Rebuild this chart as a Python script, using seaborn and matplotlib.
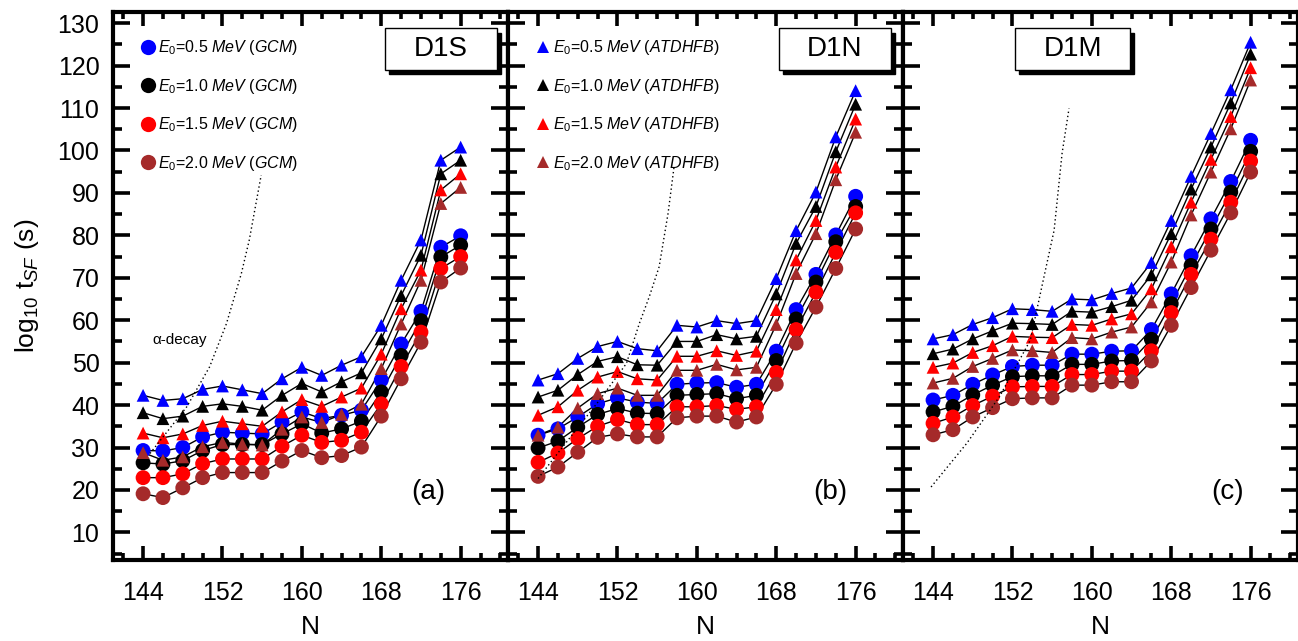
import pandas as pd
import matplotlib
matplotlib.use("Agg")
import matplotlib.pyplot as plt
from matplotlib.lines import Line2D
from matplotlib.patches import Rectangle
from matplotlib.ticker import MultipleLocator
import seaborn as sns

# ---------------------------------------------------
# DATA
# ---------------------------------------------------

N = [144, 146, 148, 150, 152, 154, 156, 158, 160, 162, 164, 166, 168, 170, 172, 174, 176]

energies = ["0.5", "1.0", "1.5", "2.0"]
colors = ["#0000ff", "#000000", "#ff0000", "#a52a2a"]
panels = ["D1S", "D1N", "D1M"]
panel_tags = ["(a)", "(b)", "(c)"]

# D1S
d1s_gcm_05 = [29.3, 29.2, 30.0, 32.5, 33.6, 33.4, 33.2, 36.0, 38.4, 36.8, 37.6, 38.8, 45.9, 54.4, 62.1, 77.2, 79.9]
d1s_gcm_10 = [26.4, 26.1, 26.9, 29.3, 30.7, 30.7, 30.7, 33.2, 35.6, 33.4, 34.4, 36.2, 43.1, 51.7, 59.9, 74.9, 77.7]
d1s_gcm_15 = [22.9, 22.9, 23.8, 26.2, 27.3, 27.3, 27.3, 30.3, 32.9, 31.2, 31.7, 33.6, 40.3, 49.1, 57.2, 72.2, 75.0]
d1s_gcm_20 = [19.1, 18.2, 20.5, 22.9, 24.1, 24.1, 24.1, 26.8, 29.3, 27.6, 28.1, 30.1, 37.4, 46.2, 54.8, 69.0, 72.3]
d1s_atd_05 = [42.3, 41.1, 41.5, 43.7, 44.5, 43.6, 42.7, 46.2, 48.9, 47.0, 49.4, 51.4, 58.8, 69.4, 78.9, 97.7, 100.8]
d1s_atd_10 = [38.2, 36.8, 37.4, 39.7, 40.3, 39.7, 38.8, 42.3, 45.1, 43.1, 45.5, 47.6, 55.6, 65.8, 75.3, 94.5, 97.7]
d1s_atd_15 = [33.4, 32.3, 33.2, 35.2, 36.2, 35.6, 35.0, 38.4, 41.3, 39.7, 41.9, 44.0, 52.0, 62.7, 71.8, 90.7, 94.5]
d1s_atd_20 = [28.8, 27.0, 27.8, 30.2, 31.2, 30.8, 30.6, 34.3, 37.2, 35.9, 37.8, 40.2, 48.6, 59.1, 69.4, 87.5, 91.3]

# D1N
d1n_gcm_05 = [32.9, 34.4, 37.2, 40.3, 41.7, 40.7, 40.4, 44.9, 45.2, 45.3, 44.2, 44.9, 52.7, 62.5, 70.8, 80.1, 89.2]
d1n_gcm_10 = [29.9, 31.5, 34.8, 37.8, 39.2, 38.1, 38.0, 42.3, 42.5, 42.7, 41.5, 42.3, 50.5, 60.3, 69.0, 78.5, 86.8]
d1n_gcm_15 = [26.5, 28.7, 32.1, 35.0, 36.6, 35.4, 35.4, 39.6, 39.6, 39.9, 39.0, 39.6, 47.7, 57.8, 66.6, 76.0, 85.3]
d1n_gcm_20 = [23.2, 25.4, 28.9, 32.4, 33.2, 32.5, 32.5, 37.0, 37.4, 37.4, 36.0, 37.2, 44.9, 54.6, 63.1, 72.2, 81.5]
d1n_atd_05 = [45.9, 47.4, 51.0, 53.8, 55.0, 53.3, 52.8, 58.8, 58.4, 59.9, 59.2, 59.9, 69.8, 81.1, 90.2, 103.2, 114.1]
d1n_atd_10 = [41.9, 43.5, 47.2, 50.3, 51.4, 49.5, 49.4, 55.0, 55.0, 56.6, 55.6, 56.2, 66.2, 78.1, 86.8, 99.7, 110.9]
d1n_atd_15 = [37.6, 39.6, 43.5, 46.6, 47.9, 46.2, 45.9, 51.5, 51.5, 52.8, 51.7, 52.7, 62.5, 74.2, 83.5, 96.1, 107.4]
d1n_atd_20 = [32.9, 34.8, 39.3, 42.7, 44.0, 42.3, 42.3, 48.2, 48.2, 49.6, 48.3, 48.9, 59.0, 71.0, 80.4, 93.1, 104.3]

# D1M
d1m_gcm_05 = [41.2, 42.3, 44.9, 47.1, 49.1, 49.4, 49.4, 52.0, 52.0, 52.7, 52.8, 57.8, 66.2, 75.2, 83.9, 92.7, 102.4]
d1m_gcm_10 = [38.4, 39.7, 42.4, 44.7, 46.7, 46.9, 46.9, 49.6, 49.6, 50.4, 50.5, 55.5, 63.9, 72.9, 81.5, 90.2, 99.8]
d1m_gcm_15 = [35.7, 37.2, 39.9, 42.1, 44.3, 44.4, 44.4, 47.2, 47.2, 48.0, 48.0, 52.8, 61.8, 70.8, 79.1, 87.8, 97.5]
d1m_gcm_20 = [33.0, 34.2, 37.2, 39.4, 41.5, 41.7, 41.7, 44.7, 44.7, 45.5, 45.5, 50.4, 58.8, 67.7, 76.5, 85.3, 94.9]
d1m_atd_05 = [55.6, 56.6, 59.0, 60.6, 62.7, 62.5, 62.1, 65.0, 64.8, 66.3, 67.6, 73.6, 83.5, 93.9, 104.0, 114.3, 125.5]
d1m_atd_10 = [52.1, 53.2, 55.6, 57.5, 59.3, 59.2, 59.0, 62.1, 61.9, 63.2, 64.7, 70.7, 80.4, 90.9, 100.8, 111.2, 122.7]
d1m_atd_15 = [48.9, 49.9, 52.4, 54.0, 56.2, 56.0, 55.9, 59.0, 58.8, 60.3, 61.5, 67.4, 77.3, 87.8, 97.9, 108.0, 119.5]
d1m_atd_20 = [45.2, 46.3, 49.1, 51.0, 53.0, 52.8, 52.4, 55.9, 55.6, 57.2, 58.4, 64.3, 73.7, 84.8, 94.9, 105.1, 116.6]

# alpha-decay half-lives (dotted)
d1s_alpha_N = [144.7, 148.4, 150.7, 152.4, 153.9, 154.7, 155.9]
d1s_alpha_t = [28.6, 39.6, 49.0, 59.2, 71.0, 78.9, 94.2]
d1n_alpha_N = [144.0, 146.5, 150.2, 152.9, 154.2, 155.2, 156.2, 157.1, 157.7]
d1n_alpha_t = [22.7, 30.2, 41.2, 49.8, 59.2, 65.5, 72.6, 85.2, 96.1]
d1m_alpha_N = [143.8, 147.4, 150.7, 153.8, 155.1, 156.2, 157.0, 157.7]
d1m_alpha_t = [20.7, 31.0, 42.0, 55.3, 69.4, 81.2, 99.3, 109.9]


def build_frame():
    series = {
        "D1S": {"GCM": [d1s_gcm_05, d1s_gcm_10, d1s_gcm_15, d1s_gcm_20],
                "ATDHFB": [d1s_atd_05, d1s_atd_10, d1s_atd_15, d1s_atd_20]},
        "D1N": {"GCM": [d1n_gcm_05, d1n_gcm_10, d1n_gcm_15, d1n_gcm_20],
                "ATDHFB": [d1n_atd_05, d1n_atd_10, d1n_atd_15, d1n_atd_20]},
        "D1M": {"GCM": [d1m_gcm_05, d1m_gcm_10, d1m_gcm_15, d1m_gcm_20],
                "ATDHFB": [d1m_atd_05, d1m_atd_10, d1m_atd_15, d1m_atd_20]},
    }
    rows = []
    for force, methods in series.items():
        for method, curves in methods.items():
            for e0, vals in zip(energies, curves):
                for n, v in zip(N, vals):
                    rows.append({"force": force, "method": method, "E0": e0,
                                 "curve": method + e0, "N": n, "logt": v})
    return pd.DataFrame(rows)


df = build_frame()
alpha = {"D1S": (d1s_alpha_N, d1s_alpha_t),
         "D1N": (d1n_alpha_N, d1n_alpha_t),
         "D1M": (d1m_alpha_N, d1m_alpha_t)}

# ---------------------------------------------------
# STYLE
# ---------------------------------------------------

sns.set_style("ticks")
plt.rcParams["font.family"] = ["Liberation Sans", "DejaVu Sans"]
plt.rcParams["mathtext.fontset"] = "custom"
plt.rcParams["mathtext.rm"] = "Liberation Sans"
plt.rcParams["mathtext.it"] = "Liberation Sans:italic"
plt.rcParams["mathtext.bf"] = "Liberation Sans:bold"
for key in ["text.color", "axes.labelcolor", "xtick.color", "ytick.color", "axes.edgecolor"]:
    plt.rcParams[key] = "black"

pal = dict(zip(energies, colors))

fig = plt.figure(figsize=(12.98, 6.41), dpi=100)
left, bottom, width, height = 0.0873, 0.1264, 0.3043, 0.8553
box_x = {"D1S": (0.688, 0.971), "D1N": (0.685, 0.969), "D1M": (0.283, 0.574)}
tag_x = {"D1S": 0.797, "D1N": 0.815, "D1M": 0.822}

for i, force in enumerate(panels):
    ax = fig.add_axes([left + i * width, bottom, width, height])
    sub = df[df["force"] == force]

    sns.lineplot(data=sub, x="N", y="logt", units="curve", estimator=None,
                 color="black", lw=1, ax=ax, legend=False, zorder=2)
    sns.scatterplot(data=sub[sub["method"] == "GCM"], x="N", y="logt", hue="E0",
                    palette=pal, marker="o", s=115, edgecolor="none",
                    ax=ax, legend=False, zorder=3)
    sns.scatterplot(data=sub[sub["method"] == "ATDHFB"], x="N", y="logt", hue="E0",
                    palette=pal, marker="^", s=85, edgecolor="none",
                    ax=ax, legend=False, zorder=4)

    an, at = alpha[force]
    ax.plot(an, at, color="black", lw=1, ls=(0, (1, 2)), zorder=5)

    ax.set_xlim(141, 180.8)
    ax.set_ylim(3.5, 132.7)
    ax.xaxis.set_major_locator(MultipleLocator(8))
    ax.xaxis.set_minor_locator(MultipleLocator(2))
    ax.yaxis.set_major_locator(MultipleLocator(10))
    ax.yaxis.set_minor_locator(MultipleLocator(5))
    ax.tick_params(axis="both", which="both", direction="in", top=True, right=True,
                   width=2.6, labelsize=18, colors="black")
    ax.tick_params(axis="y", which="major", length=12, pad=10)
    ax.tick_params(axis="y", which="minor", length=6.5)
    ax.tick_params(axis="x", which="major", length=10, pad=15)
    ax.tick_params(axis="x", which="minor", length=5)
    for sp in ax.spines.values():
        sp.set_linewidth(3)
        sp.set_color("black")

    ax.set_xlabel("N", fontsize=19, labelpad=7)
    if i == 0:
        ax.set_ylabel(r"log$_{10}$ t$_{SF}$ (s)", fontsize=19, labelpad=12)
    else:
        ax.set_ylabel("")
        ax.tick_params(labelleft=False)

    # force name box with shadow
    x0, x1 = box_x[force]
    ax.add_patch(Rectangle((x0 + 0.011, 0.894 - 0.008), x1 - x0, 0.076,
                           transform=ax.transAxes, facecolor="black",
                           edgecolor="black", zorder=6))
    ax.add_patch(Rectangle((x0, 0.894), x1 - x0, 0.076, transform=ax.transAxes,
                           facecolor="white", edgecolor="black", lw=1, zorder=7))
    ax.text((x0 + x1) / 2, 0.932, force, transform=ax.transAxes, fontsize=20,
            ha="center", va="center", zorder=8)

    ax.text(tag_x[force], 0.124, panel_tags[i], transform=ax.transAxes,
            fontsize=20, ha="center", va="center")

    if force == "D1S":
        ax.text(0.169, 0.401, "α-decay", transform=ax.transAxes, fontsize=11,
                ha="center", va="center")
        handles = [Line2D([], [], ls="none", marker="o", markersize=11,
                          color=c, markeredgewidth=0) for c in colors]
        labels = [r"$E_0$=" + e + r" $MeV$ ($GCM$)" for e in energies]
        ax.legend(handles, labels, loc="upper left", bbox_to_anchor=(0.055, 0.963),
                  frameon=False, fontsize=11.5, handlelength=0.8,
                  handletextpad=0.25, labelspacing=1.22, borderaxespad=0)
    elif force == "D1N":
        handles = [Line2D([], [], ls="none", marker="^", markersize=9,
                          color=c, markeredgewidth=0) for c in colors]
        labels = [r"$E_0$=" + e + r" $MeV$ ($ATDHFB$)" for e in energies]
        ax.legend(handles, labels, loc="upper left", bbox_to_anchor=(0.055, 0.963),
                  frameon=False, fontsize=11.5, handlelength=0.8,
                  handletextpad=0.25, labelspacing=1.22, borderaxespad=0)

fig.savefig("out.png", dpi=100)
